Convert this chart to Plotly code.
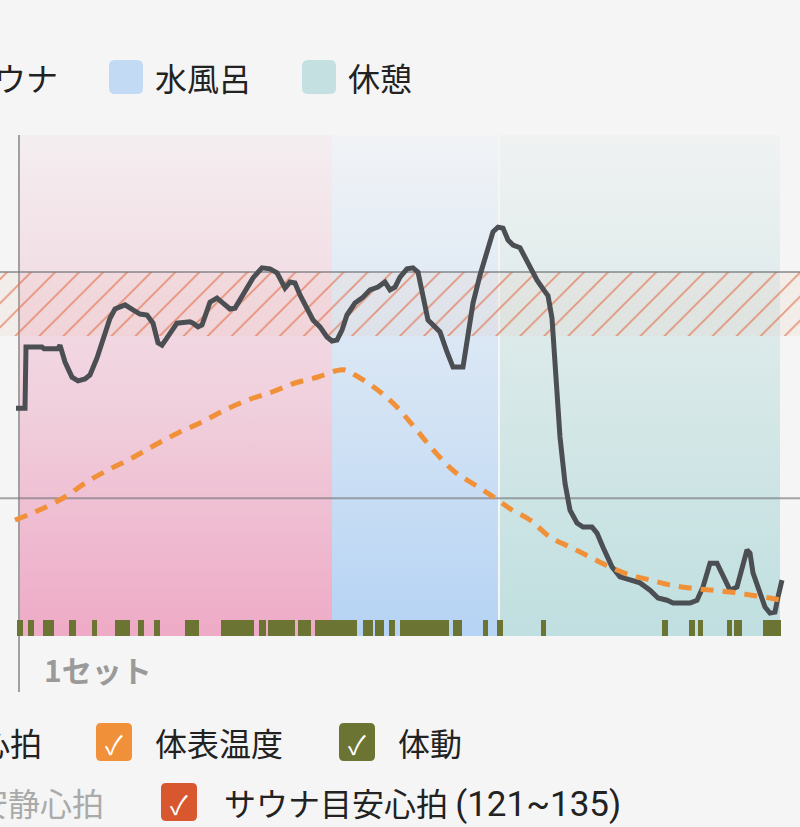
import plotly.graph_objects as go

W, H = 800, 827

# ---------------- data ----------------
# heart rate (bpm) vs seconds from start of the set
hr_t = [-4, 5, 6, 22, 24, 38, 40, 45, 52, 58, 65, 70, 77, 85, 90, 95, 105, 113, 120, 127,
        133, 138, 142, 147, 157, 170, 173, 178, 182, 190, 197, 203, 210, 215, 223, 233, 242, 250, 257, 260,
        265, 270, 275, 280, 287, 293, 300, 307, 312, 317, 322, 327, 335, 343, 350, 358, 365, 370, 375, 380,
        387, 393, 398, 403, 408, 415, 420, 427, 433, 443, 448, 453, 460, 467, 473, 478, 483, 488, 493, 500,
        505, 510, 517, 523, 528, 532, 535, 540, 545, 550, 557, 563, 572, 577, 583, 592, 600, 610, 620, 630,
        638, 647, 653, 670, 677, 683, 690, 697, 703, 710, 717, 723, 727, 730, 733, 740, 745, 750, 755, 758, 762]
hr_v = [105.2, 105.2, 118.6, 118.6, 118.2, 118.2, 119.0, 115.3, 112.0, 111.2, 111.6, 112.5, 116.2, 121.2, 124.9, 126.9, 127.8, 126.7, 125.8, 125.6,
        123.8, 119.5, 119.0, 120.6, 123.8, 124.1, 123.8, 123.0, 123.4, 128.4, 129.3, 128.2, 126.9, 127.1, 130.0, 133.7, 135.9, 135.7, 134.8, 133.7,
        131.5, 132.8, 132.6, 130.0, 126.7, 124.5, 123.0, 120.8, 119.9, 120.1, 122.3, 125.6, 128.2, 129.5, 131.1, 131.7, 132.8, 131.1, 131.7, 133.9,
        135.7, 135.9, 135.0, 129.3, 124.5, 123.0, 121.9, 117.5, 114.2, 114.2, 120.6, 128.2, 134.3, 139.4, 143.8, 144.8, 144.6, 142.0, 140.9, 140.3,
        138.3, 135.9, 133.2, 131.3, 129.8, 124.9, 115.8, 98.9, 88.8, 82.9, 80.1, 79.2, 79.2, 77.9, 74.8, 70.5, 68.3, 67.6, 67.0, 65.4,
        63.7, 63.2, 62.6, 62.6, 63.2, 66.1, 71.3, 71.3, 68.3, 65.4, 66.1, 71.3, 74.2, 73.5, 69.2, 64.8, 61.7, 60.4, 60.6, 63.9, 67.6]

# body surface temperature (°C)
temp_t = [-5, 15, 45, 65, 88, 112, 135, 158, 182, 205, 228, 252, 275, 298, 315, 325, 335, 355, 375, 395,
          415, 435, 455, 475, 492, 510, 530, 550, 570, 590, 610, 630, 650, 670, 690, 710, 730, 750, 760]
temp_v = [32.32, 32.48, 32.78, 33.06, 33.32, 33.56, 33.82, 34.06, 34.28, 34.52, 34.72, 34.88, 35.06, 35.18, 35.30, 35.32, 35.22, 34.96, 34.62, 34.16,
          33.68, 33.28, 33.02, 32.76, 32.52, 32.32, 31.98, 31.78, 31.58, 31.38, 31.22, 31.12, 31.02, 30.96, 30.92, 30.88, 30.82, 30.76, 30.72]

# body movement intervals (seconds)
move_start = [-3, 8, 23, 49, 72, 95, 118, 134, 165, 201, 239, 248, 278, 295, 343, 355, 369, 380, 433, 463, 477, 521, 642, 669, 678, 707, 714, 743]
move_end = [3, 14, 34, 56, 77, 110, 124, 140, 179, 234, 246, 275, 291, 337, 353, 364, 375, 429, 442, 468, 483, 526, 648, 675, 683, 712, 722, 761]

# phases
phase_names = ["サウナ", "水風呂", "休憩"]
phase_start = [0, 312, 480]
phase_end = [312, 478, 760]

target_low, target_high = 121, 135
grid_values = [135, 85.5]
set_label = "1セット"

# ---------------- style ----------------
BG = "#f5f5f5"
FONT = "Noto Sans CJK JP, Noto Sans, sans-serif"
LATIN = "Roboto, Noto Sans, sans-serif"
X_RANGE = [-20, 780]
HR_RANGE = [55.375, 164.97]
TEMP_RANGE = [30, 40.02]
MOVE_RANGE = [0, 31.31]
PLOT_TOP, PLOT_BOTTOM = 135, 636

phase_scales = [
    [[0, "#eeaac6"], [0.45, "#f0cfdc"], [1, "#f4eef0"]],
    [[0, "#b5d3f4"], [0.45, "#d3e3f4"], [1, "#f1f3f6"]],
    [[0, "#c0dfe0"], [0.45, "#d5e7e7"], [1, "#f0f2f2"]],
]
legend_colors = ["#f0b8cc", "#c2daf3", "#c5e0e1"]

HR_COLOR = "#4b4e52"
TEMP_COLOR = "#f0913a"
MOVE_COLOR = "#6b7432"
TARGET_COLOR = "#d9572f"


def px(x):
    return x / W


def py(y):
    return 1 - y / H


fig = go.Figure()

# phase backgrounds
for s, e, cs in zip(phase_start, phase_end, phase_scales):
    fig.add_trace(go.Scatter(
        x=[s, e, e, s, s], y=[HR_RANGE[0], HR_RANGE[0], HR_RANGE[1], HR_RANGE[1], HR_RANGE[0]],
        mode="none", fill="toself", fillcolor="rgba(0,0,0,0)",
        fillgradient=dict(type="vertical", colorscale=cs, start=HR_RANGE[0], stop=HR_RANGE[1]),
        hoverinfo="skip", yaxis="y"))

# sauna target band (hatched)
fig.add_trace(go.Scatter(
    x=[X_RANGE[0], X_RANGE[1], X_RANGE[1], X_RANGE[0], X_RANGE[0]],
    y=[target_low, target_low, target_high, target_high, target_low],
    mode="none", fill="toself", fillcolor="rgba(0,0,0,0)",
    fillpattern=dict(shape="/", fgcolor="#e07650", fgopacity=0.75,
                     bgcolor="rgba(235,185,160,0.12)", size=17, solidity=0.1),
    hoverinfo="skip"))

# grid lines
for g in grid_values:
    fig.add_trace(go.Scatter(x=X_RANGE, y=[g, g], mode="lines",
                             line=dict(color="rgba(120,120,125,0.65)", width=2), hoverinfo="skip"))

# heart rate
fig.add_trace(go.Scatter(x=hr_t, y=hr_v, mode="lines",
                         line=dict(color=HR_COLOR, width=5), hoverinfo="skip"))

# movement bars
fig.add_trace(go.Bar(
    x=[(s + e) / 2 for s, e in zip(move_start, move_end)],
    y=[1] * len(move_start), base=0,
    width=[e - s for s, e in zip(move_start, move_end)],
    marker=dict(color=MOVE_COLOR, line=dict(width=0)), yaxis="y2", hoverinfo="skip"))

# temperature
fig.add_trace(go.Scatter(x=temp_t, y=temp_v, mode="lines", yaxis="y3",
                         line=dict(color=TEMP_COLOR, width=5, dash="13px,9px", shape="spline", smoothing=1),
                         hoverinfo="skip"))

shapes = []
annotations = []

# y axis line
shapes.append(dict(type="line", xref="paper", yref="paper", x0=px(19), x1=px(19),
                   y0=py(692), y1=py(PLOT_TOP), line=dict(color="#a0a0a0", width=2), layer="below"))


def rrect(x0, y0, x1, y1, r, color):
    p = (f"M {px(x0 + r)},{py(y0)} L {px(x1 - r)},{py(y0)} Q {px(x1)},{py(y0)} {px(x1)},{py(y0 + r)} "
         f"L {px(x1)},{py(y1 - r)} Q {px(x1)},{py(y1)} {px(x1 - r)},{py(y1)} "
         f"L {px(x0 + r)},{py(y1)} Q {px(x0)},{py(y1)} {px(x0)},{py(y1 - r)} "
         f"L {px(x0)},{py(y0 + r)} Q {px(x0)},{py(y0)} {px(x0 + r)},{py(y0)} Z")
    return dict(type="path", xref="paper", yref="paper", path=p, fillcolor=color,
                line=dict(width=0), layer="above")


def text(t, x, y, anchor="left", color="#222222", size=32, bold=False):
    annotations.append(dict(text=f"<b>{t}</b>" if bold else t, x=px(x), y=py(y), xref="paper", yref="paper",
                            xanchor=anchor, yanchor="middle", showarrow=False,
                            font=dict(family=FONT, size=size, color=color)))


def checkbox(x0, y0, x1, y1, color):
    shapes.append(rrect(x0, y0, x1, y1, 5, color))
    text("✓", (x0 + x1) / 2, (y0 + y1) / 2 + 1, anchor="center", color="white", size=26)


# top legend (phases)
text(phase_names[0], 60, 77, anchor="right")
shapes.append(rrect(109, 60, 143, 94, 6, legend_colors[1]))
text(phase_names[1], 153, 77)
shapes.append(rrect(302, 60, 336, 94, 6, legend_colors[2]))
text(phase_names[2], 346, 77)

# bottom legend
text("心拍", 44, 742, anchor="right")
checkbox(96, 723, 132, 761, TEMP_COLOR)
text("体表温度", 153, 742)
checkbox(339, 723, 375, 761, MOVE_COLOR)
text("体動", 396, 742)
text("安静心拍", 106, 802, anchor="right", color="#aaaaaa")
checkbox(161, 783, 197, 821, TARGET_COLOR)
text(f"サウナ目安心拍 <span style=\"font-family:{LATIN};font-size:35px\">({target_low}~{target_high})</span>",
     222, 802)

# x category label
text(set_label, 42, 669, color="#9a9a9a", size=30, bold=True)

ydom = [py(PLOT_BOTTOM), py(PLOT_TOP)]
fig.update_layout(
    width=W, height=H, autosize=False,
    margin=dict(l=0, r=0, t=0, b=0, pad=0),
    paper_bgcolor=BG, plot_bgcolor="rgba(0,0,0,0)",
    showlegend=False, barmode="overlay",
    xaxis=dict(domain=[0, 1], range=X_RANGE, visible=False, fixedrange=True),
    yaxis=dict(domain=ydom, range=HR_RANGE, visible=False, fixedrange=True),
    yaxis2=dict(overlaying="y", range=MOVE_RANGE, visible=False, fixedrange=True),
    yaxis3=dict(overlaying="y", range=TEMP_RANGE, visible=False, fixedrange=True),
    shapes=shapes, annotations=annotations,
)

fig.write_html("out.html", config={"displayModeBar": False},
               post_script="document.body.style.margin='0';document.body.style.overflow='hidden';")
